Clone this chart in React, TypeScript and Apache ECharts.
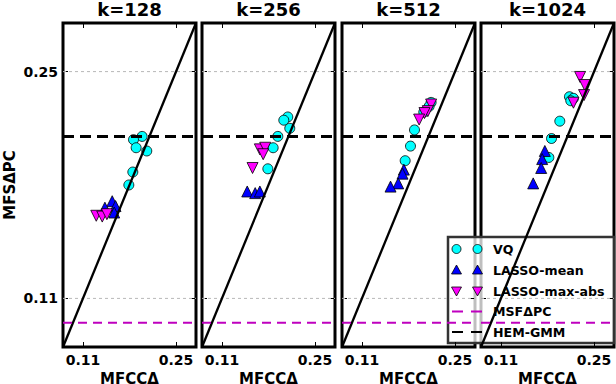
import React, { useEffect, useRef } from 'react';
import * as echarts from 'echarts';

const panelTitles = ['k=128', 'k=256', 'k=512', 'k=1024'];
const axisMin = 0.08;
const axisMax = 0.28;
const xTickValues = [0.11, 0.25];
const yTickValues = [0.11, 0.25];
const diagonalEnds = [0.08, 0.28];
const hemGmmLevel = 0.21;
const msfdpcLevel = 0.095;

// [MFCCΔ, MFSΔPC] per panel
const vqData = [
  [[0.199, 0.210], [0.186, 0.208], [0.190, 0.203], [0.206, 0.201], [0.185, 0.188], [0.179, 0.180]],
  [[0.209, 0.222], [0.203, 0.220], [0.212, 0.215], [0.194, 0.210], [0.187, 0.203], [0.179, 0.190]],
  [[0.214, 0.231], [0.211, 0.2285], [0.203, 0.225], [0.189, 0.214], [0.183, 0.204], [0.175, 0.195]],
  [[0.213, 0.2345], [0.219, 0.2335], [0.215, 0.232], [0.1985, 0.2194], [0.186, 0.2087], [0.182, 0.197]],
];
const lassoMeanData = [
  [[0.154, 0.170], [0.143, 0.166], [0.159, 0.167], [0.157, 0.163]],
  [[0.148, 0.176], [0.160, 0.175], [0.167, 0.176]],
  [[0.173, 0.1895], [0.171, 0.187], [0.1645, 0.181], [0.153, 0.179]],
  [[0.176, 0.201], [0.172, 0.196], [0.1705, 0.1905], [0.1585, 0.181]],
];
const lassoMaxAbsData = [
  [[0.130, 0.161], [0.139, 0.1605], [0.146, 0.162]],
  [[0.167, 0.202], [0.175, 0.203], [0.172, 0.199], [0.156, 0.1905]],
  [[0.214, 0.2297], [0.209, 0.2256], [0.204, 0.2244], [0.196, 0.2204]],
  [[0.229, 0.2467], [0.236, 0.2417], [0.235, 0.2355], [0.219, 0.2308]],
];

const legendLabels = ['VQ', 'LASSO-mean', 'LASSO-max-abs', 'MSFΔPC', 'HEM-GMM'];

const gridLefts = [63, 202, 342, 481];
const gridWidth = 133;
const gridTop = 23;
const gridHeight = 324;
const FONT = 'DejaVu Sans';
const CYAN = '#00ffff';
const BLUE = '#0000ff';
const MAGENTA = '#ff00ff';
const MSF_COLOR = '#bf00bf';

export default function App() {
  const ref = useRef<HTMLDivElement>(null);
  useEffect(() => {
    if (!ref.current) return;
    const chart = echarts.init(ref.current, undefined, { renderer: 'svg' });
    const grids: any[] = [];
    const xAxes: any[] = [];
    const yAxes: any[] = [];
    const series: any[] = [];
    const graphics: any[] = [];

    const tickCommon = {
      show: true,
      inside: true,
      length: 5,
      lineStyle: { color: '#000', width: 1 },
    };

    panelTitles.forEach((title, i) => {
      grids.push({
        left: gridLefts[i],
        top: gridTop,
        width: gridWidth,
        height: gridHeight,
        show: true,
        borderColor: '#000',
        borderWidth: 3,
        backgroundColor: 'transparent',
        containLabel: false,
        outerBoundsMode: 'none',
      });
      const baseAxis = {
        type: 'value',
        gridIndex: i,
        min: axisMin,
        max: axisMax,
        axisLine: { show: false },
        splitLine: { show: false },
      };
      xAxes.push({
        ...baseAxis,
        position: 'bottom',
        axisTick: { ...tickCommon, customValues: xTickValues },
        axisLabel: {
          show: true,
          customValues: xTickValues,
          formatter: (v: number) => v.toFixed(2),
          fontFamily: FONT,
          fontWeight: 'bold',
          fontSize: 14,
          color: '#000',
          margin: 6,
        },
        name: 'MFCCΔ',
        nameLocation: 'middle',
        nameGap: 23,
        nameTextStyle: { fontFamily: FONT, fontWeight: 'bold', fontSize: 15, color: '#000' },
      });
      xAxes.push({
        ...baseAxis,
        position: 'top',
        axisTick: { ...tickCommon, customValues: xTickValues },
        axisLabel: { show: false },
      });
      yAxes.push({
        ...baseAxis,
        position: 'left',
        axisTick: { ...tickCommon, customValues: yTickValues },
        axisLabel: {
          show: i === 0,
          customValues: yTickValues,
          formatter: (v: number) => v.toFixed(2),
          fontFamily: FONT,
          fontWeight: 'bold',
          fontSize: 14,
          color: '#000',
          margin: 5,
        },
      });
      yAxes.push({
        ...baseAxis,
        position: 'right',
        axisTick: { ...tickCommon, customValues: yTickValues },
        axisLabel: { show: false },
      });

      const xi = 2 * i;
      const yi = 2 * i;
      // horizontal grid lines
      yTickValues.forEach((t) => {
        series.push({
          type: 'line',
          xAxisIndex: xi,
          yAxisIndex: yi,
          data: [[axisMin, t], [axisMax, t]],
          symbol: 'none',
          silent: true,
          z: 1,
          lineStyle: { color: '#b8b8b8', width: 1, type: [3, 3] },
        });
      });
      series.push({
        type: 'scatter',
        name: 'VQ',
        xAxisIndex: xi,
        yAxisIndex: yi,
        data: vqData[i],
        symbol: 'circle',
        symbolSize: 10,
        itemStyle: { color: CYAN, borderColor: '#000', borderWidth: 0.8, opacity: 1 },
        z: 3,
      });
      series.push({
        type: 'scatter',
        name: 'LASSO-mean',
        xAxisIndex: xi,
        yAxisIndex: yi,
        data: lassoMeanData[i],
        symbol: 'triangle',
        symbolSize: 11,
        itemStyle: { color: BLUE, borderColor: '#000', borderWidth: 0.8, opacity: 1 },
        z: 4,
      });
      series.push({
        type: 'scatter',
        name: 'LASSO-max-abs',
        xAxisIndex: xi,
        yAxisIndex: yi,
        data: lassoMaxAbsData[i],
        symbol: 'triangle',
        symbolRotate: 180,
        symbolSize: 11,
        itemStyle: { color: MAGENTA, borderColor: '#000', borderWidth: 0.8, opacity: 1 },
        z: 5,
      });
      series.push({
        type: 'line',
        xAxisIndex: xi,
        yAxisIndex: yi,
        data: [[diagonalEnds[0], diagonalEnds[0]], [diagonalEnds[1], diagonalEnds[1]]],
        symbol: 'none',
        silent: true,
        z: 6,
        lineStyle: { color: '#000', width: 2.3 },
      });
      series.push({
        type: 'line',
        xAxisIndex: xi,
        yAxisIndex: yi,
        data: [[axisMin, hemGmmLevel], [axisMax, hemGmmLevel]],
        symbol: 'none',
        silent: true,
        z: 6,
        lineStyle: { color: '#000', width: 3, type: [11, 6] },
      });
      series.push({
        type: 'line',
        xAxisIndex: xi,
        yAxisIndex: yi,
        data: [[axisMin, msfdpcLevel], [axisMax, msfdpcLevel]],
        symbol: 'none',
        silent: true,
        z: 6,
        lineStyle: { color: MSF_COLOR, width: 2, type: [9, 6] },
      });

      graphics.push({
        type: 'text',
        x: gridLefts[i] + gridWidth / 2,
        y: 0,
        style: {
          text: title,
          textAlign: 'center',
          textVerticalAlign: 'top',
          font: `bold 18px "${FONT}"`,
          fill: '#000',
        },
      });
    });

    // y axis label
    graphics.push({
      type: 'text',
      x: 10,
      y: 185,
      rotation: Math.PI / 2,
      style: {
        text: 'MFSΔPC',
        textAlign: 'center',
        textVerticalAlign: 'middle',
        font: `bold 15px "${FONT}"`,
        fill: '#000',
      },
    });

    // legend
    const lgX = 448, lgY = 237, lgW = 166, lgH = 106;
    const rowYs = [249, 270, 291, 311.5, 332];
    const mk = [456.5, 477.5];
    const legendChildren: any[] = [
      {
        type: 'rect',
        shape: { x: lgX, y: lgY, width: lgW, height: lgH },
        style: { fill: 'rgba(255,255,255,0.75)', stroke: '#333', lineWidth: 2.5 },
      },
    ];
    mk.forEach((mx) => {
      legendChildren.push({
        type: 'circle',
        shape: { cx: mx, cy: rowYs[0], r: 4.5 },
        style: { fill: CYAN, stroke: '#000', lineWidth: 0.8 },
      });
      legendChildren.push({
        type: 'polygon',
        shape: { points: [[mx, rowYs[1] - 5], [mx - 5, rowYs[1] + 4], [mx + 5, rowYs[1] + 4]] },
        style: { fill: BLUE, stroke: '#000', lineWidth: 0.8 },
      });
      legendChildren.push({
        type: 'polygon',
        shape: { points: [[mx, rowYs[2] + 5], [mx - 5, rowYs[2] - 4], [mx + 5, rowYs[2] - 4]] },
        style: { fill: MAGENTA, stroke: '#000', lineWidth: 0.8 },
      });
    });
    legendChildren.push({
      type: 'line',
      shape: { x1: 452, y1: rowYs[3], x2: 484, y2: rowYs[3] },
      style: { stroke: MSF_COLOR, lineWidth: 2, lineDash: [11, 8] },
    });
    legendChildren.push({
      type: 'line',
      shape: { x1: 452, y1: rowYs[4], x2: 484, y2: rowYs[4] },
      style: { stroke: '#000', lineWidth: 2, lineDash: [11, 8] },
    });
    legendLabels.forEach((lab, j) => {
      legendChildren.push({
        type: 'text',
        x: 493,
        y: rowYs[j],
        style: {
          text: lab,
          textAlign: 'left',
          textVerticalAlign: 'middle',
          font: `bold 12.6px "${FONT}"`,
          fill: '#000',
        },
      });
    });
    graphics.push({ type: 'group', z: 100, children: legendChildren });

    chart.setOption({
      animation: false,
      backgroundColor: '#fff',
      grid: grids,
      xAxis: xAxes,
      yAxis: yAxes,
      series,
      graphic: graphics,
    });
    return () => chart.dispose();
  }, []);
  return (
    <div
      ref={ref}
      style={{ position: 'fixed', left: 0, top: 0, width: 616, height: 384 }}
    />
  );
}
